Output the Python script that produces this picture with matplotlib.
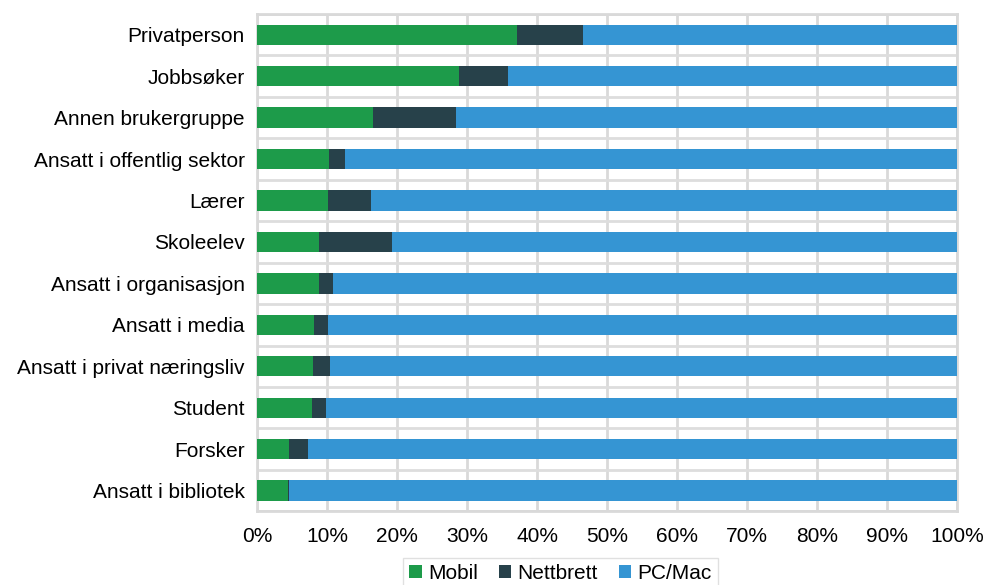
import matplotlib.pyplot as plt
import numpy as np
from matplotlib.ticker import PercentFormatter

plt.rcParams['font.family'] = ['Liberation Sans', 'DejaVu Sans']

# brukergrupper, fra toppen og ned
grupper = ["Privatperson", "Jobbsøker", "Annen brukergruppe", "Ansatt i offentlig sektor",
           "Lærer", "Skoleelev", "Ansatt i organisasjon", "Ansatt i media",
           "Ansatt i privat næringsliv", "Student", "Forsker", "Ansatt i bibliotek"]
mobil = [37.1, 28.8, 16.6, 10.3, 10.1, 8.9, 8.9, 8.2, 8.0, 7.8, 4.5, 4.4]
nettbrett = [9.4, 7.1, 11.8, 2.3, 6.2, 10.4, 1.9, 1.9, 2.4, 2.1, 2.8, 0.1]
pc_mac = [100 - m - n for m, n in zip(mobil, nettbrett)]

farger = ['#1D9B4A', '#27414A', '#3595D3']

fig = plt.figure(figsize=(9.87, 5.85), dpi=100)
ax = fig.add_axes([0.2604, 0.126, 0.7092, 0.850])

y = np.arange(len(grupper))[::-1]
h = 0.49
ax.barh(y, mobil, h, color=farger[0], label='Mobil', zorder=3)
ax.barh(y, nettbrett, h, left=mobil, color=farger[1], label='Nettbrett', zorder=3)
left2 = [m + n for m, n in zip(mobil, nettbrett)]
ax.barh(y, pc_mac, h, left=left2, color=farger[2], label='PC/Mac', zorder=3)

ax.set_xlim(0, 100)
ax.set_ylim(-0.5, len(grupper) - 0.5)
ax.set_xticks(np.arange(0, 101, 10))
ax.xaxis.set_major_formatter(PercentFormatter(decimals=0))
ax.set_yticks(y)
ax.set_yticklabels(grupper)
ax.set_yticks(np.arange(-0.5, len(grupper), 1), minor=True)
ax.tick_params(axis='both', which='both', length=0, labelsize=15)
ax.tick_params(axis='y', pad=9)
ax.tick_params(axis='x', pad=11)
ax.tick_params(axis='y', which='minor', labelleft=False)

ax.grid(axis='x', which='major', color='#D9D9D9', linewidth=2, zorder=0)
ax.grid(axis='y', which='minor', color='#DDDDDD', linewidth=2, zorder=0)
for s in ax.spines.values():
    s.set_color('#D9D9D9')
    s.set_linewidth(2)

fig.legend(loc='center', bbox_to_anchor=(0.568, 0.02), ncol=3, fontsize=15,
           handlelength=0.6, handleheight=0.6, handletextpad=0.3, columnspacing=1.0,
           frameon=True, fancybox=False, edgecolor='#D9D9D9', borderpad=0.3)

fig.savefig('out.png', dpi=100)
